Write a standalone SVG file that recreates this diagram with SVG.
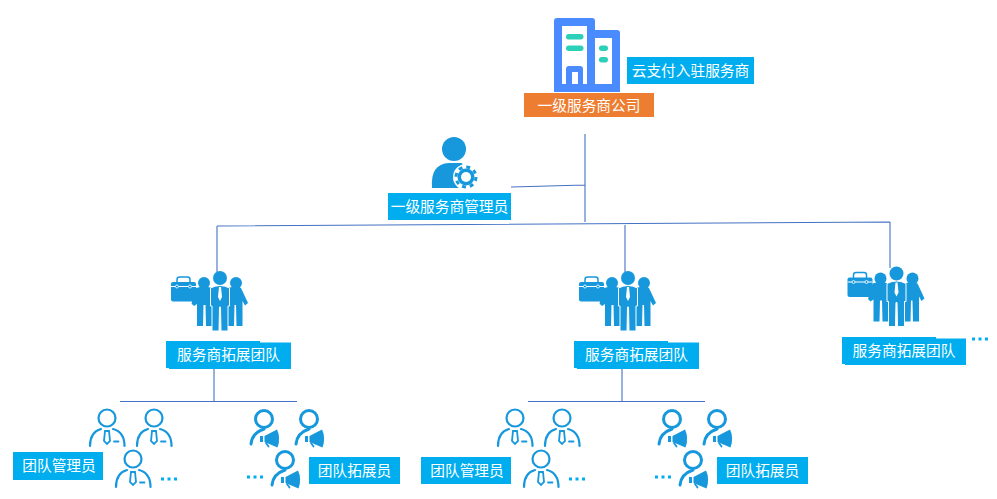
<svg xmlns="http://www.w3.org/2000/svg" xmlns:xlink="http://www.w3.org/1999/xlink" width="997" height="499" viewBox="0 0 997 499">
<style>
.lb{fill:#00aeef}
.t{font-family:"Noto Sans CJK SC","Liberation Sans",sans-serif;font-size:14.7px;fill:#fff;text-anchor:middle}
.c{fill:none;stroke:#4472c4;stroke-width:1.100}
.ic{fill:#1798dc}
.st{fill:none;stroke:#1798dc;stroke-linecap:round}
.dots{fill:none;stroke:#00aeef;stroke-width:3;stroke-dasharray:3 3.5}
</style>
<defs>
<g id="team">
<path class="ic" d="M196 288Q204 285 212 288L212 326L206 326L205.500 305L203.500 305L203 326L197 326L197 304L194 306L191.500 303.500Z"/>
<path class="ic" d="M228 288Q236 285 241 288L248 303L245 305.500L242.500 301L242.500 326L236.500 326L236 305L234.500 305L234 326L228 326Z"/>
<circle class="ic" cx="204" cy="283" r="6"/>
<circle class="ic" cx="236" cy="283" r="6"/>
<path class="ic" stroke="#fff" stroke-width="1" d="M210.500 288Q220 283 229.500 288L229.500 306L228 306L228 331L221 331L220.500 307L219.500 307L219 331L212 331L212 306L210.500 306Z"/>
<circle class="ic" cx="220" cy="278" r="7"/>
<path fill="#fff" d="M219 287H221L222 297L220 301L218 297Z"/>
<rect class="ic" x="171" y="282" width="25" height="19.500" rx="2"/>
<path class="st" stroke-width="1.500" d="M177 282V279.500Q177 277 179.500 277H187.500Q190 277 190 279.500V282"/>
<path fill="none" stroke="#fff" stroke-width="1" d="M171 286.500H196"/>
<circle class="ic" stroke="#fff" stroke-width=".8" cx="177" cy="286.500" r="1.500"/>
<circle class="ic" stroke="#fff" stroke-width=".8" cx="190" cy="286.500" r="1.500"/>
</g>
<g id="mgr">
<circle class="st" stroke-width="2.200" cx="107" cy="418" r="8.500"/>
<path class="st" stroke-width="2.200" d="M90 446Q90 432 101 429M124.500 446Q124.500 432 113 429"/>
<path class="st" stroke-width="1.800" d="M105 431H109L110 441L107 444L104 441Z"/>
<path class="st" stroke-width="1.800" d="M114 441.500H118.500"/>
</g>
<g id="pro">
<circle class="st" stroke-width="3" cx="264" cy="419" r="8.500"/>
<path class="st" stroke-width="3" d="M251 444Q252 433 264 429"/>
<path class="ic" d="M264.500 436L277 429.500Q281 438 277.500 447.500L264.500 442Z"/>
<rect class="ic" x="260" y="436" width="3" height="6"/>
<path class="st" stroke-width="1.800" d="M266 443L268.500 446.500"/>
</g>
</defs>

<g id="connectors">
<path class="c" d="M585 134V222M511 187L585 185M217 226L890 222M217 226V272M625 225V272M890 222V268"/>
<path class="c" d="M214 369V401M120 401.500H297M622 369V401M528 401.500H705"/>
</g>

<g id="company">
<path fill="#4a8cff" d="M554 21Q554 18 557 18H592Q595 18 595 21V30H617Q620 30 620 33V92H554Z"/>
<path fill="#fff" d="M562 26H587V84H583V69Q583 66 580 66H569Q566 66 566 69V84H562ZM572 72H578V84H572ZM595 38H612V84H595Z"/>
<rect fill="#2bd0b8" x="566" y="34" width="17.500" height="5.500" rx="2.700"/>
<rect fill="#2bd0b8" x="566" y="45.500" width="17.500" height="5.500" rx="2.700"/>
<rect fill="#2bd0b8" x="599" y="45.500" width="9" height="5.500" rx="2.700"/>
<rect fill="#2bd0b8" x="599" y="57" width="9" height="5.500" rx="2.700"/>
<rect class="lb" x="627" y="57" width="127" height="27"/>
<text class="t" x="690.500" y="76">云支付入驻服务商</text>
<rect fill="#ed7d31" x="524" y="93" width="130" height="24"/>
<text class="t" x="589" y="111">一级服务商公司</text>
</g>

<g id="admin">
<circle class="ic" cx="454" cy="149" r="12"/>
<path class="ic" d="M432 188Q430 164 449 163H462L470 188Z"/>
<circle fill="#fff" cx="466" cy="177" r="13"/>
<circle class="ic" cx="466" cy="177" r="8.500"/>
<circle fill="none" stroke="#1798dc" stroke-width="3" stroke-dasharray="3.900 3.950" cx="466" cy="177" r="10"/>
<circle fill="#fff" cx="466" cy="177" r="5"/>
<rect class="lb" x="388" y="193" width="123" height="27"/>
<text class="t" x="449.500" y="212">一级服务商管理员</text>
</g>

<g id="team-1">
<use href="#team"/>
<rect class="lb" x="166" y="341" width="94" height="27"/>
<rect class="lb" x="169" y="342.500" width="122" height="26.500"/>
<text class="t" x="228.500" y="360">服务商拓展团队</text>
</g>
<g id="team-2" transform="translate(408 0)">
<use href="#team"/>
<rect class="lb" x="166" y="341" width="94" height="27"/>
<rect class="lb" x="169" y="342.500" width="122" height="26.500"/>
<text class="t" x="228.500" y="360">服务商拓展团队</text>
</g>
<g id="team-3" transform="translate(676.500 -4.500)">
<use href="#team"/>
<rect class="lb" x="165.500" y="341.500" width="94" height="27"/>
<rect class="lb" x="168.500" y="343" width="121" height="26.500"/>
<text class="t" x="227.500" y="360.500">服务商拓展团队</text>
</g>
<path id="dots-team-3" class="dots" d="M972 339H989"/>

<g id="managers-1">
<use href="#mgr"/><use href="#mgr" x="47"/><use href="#mgr" x="26" y="41"/>
<rect class="lb" x="13" y="452" width="90" height="28"/>
<text class="t" x="59" y="471">团队管理员</text>
<path class="dots" d="M161 479H178"/>
</g>
<g id="promoters-1">
<use href="#pro"/><use href="#pro" x="45"/><use href="#pro" x="21" y="41"/>
<rect class="lb" x="309" y="457" width="91" height="27"/>
<text class="t" x="354.500" y="476">团队拓展员</text>
<path class="dots" d="M247 477H264"/>
</g>
<g id="managers-2" transform="translate(408 0)">
<use href="#mgr"/><use href="#mgr" x="47"/><use href="#mgr" x="26" y="41"/>
<rect class="lb" x="13" y="457" width="90" height="27"/>
<text class="t" x="59" y="476">团队管理员</text>
<path class="dots" d="M161 479H178"/>
</g>
<g id="promoters-2" transform="translate(408 0)">
<use href="#pro"/><use href="#pro" x="45"/><use href="#pro" x="21" y="41"/>
<rect class="lb" x="309" y="457" width="91" height="27"/>
<text class="t" x="354.500" y="476">团队拓展员</text>
<path class="dots" d="M247 477H264"/>
</g>
</svg>
